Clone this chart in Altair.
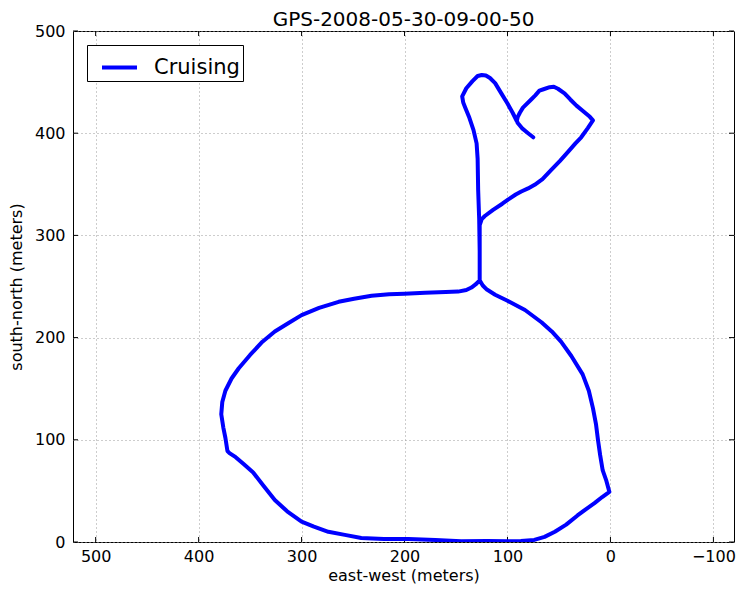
import altair as alt
import pandas as pd

# GPS track (east-west, south-north) in metres, in drawing order
east_west = [
    # tip of the heart, up the left lobe, down the stem
    75, 80, 86, 90, 95, 100, 106, 112, 117, 121, 125, 129, 134, 140, 144, 143, 141, 137, 133, 130,
    129, 128.5, 127.5, 127, 127,
    # right side of the big loop
    124, 120, 112, 100, 83, 67, 57, 48, 38, 27, 21, 17, 14, 12, 10, 7.5, 4, 1,
    # bottom of the loop, left side, top
    8, 15.5, 24, 32, 43, 54, 64, 74, 87, 99.5, 120, 145, 170, 196, 220, 242, 258, 274, 288, 300,
    314, 326, 337, 347, 356, 364, 370, 372, 374, 376, 378, 377, 374, 368, 361, 350, 338, 326, 313,
    300, 283, 264, 249, 232, 215, 200, 180, 160, 148, 140, 135, 131, 127,
    # back up the stem and along the branch to the right lobe
    127, 127, 125, 122, 114, 105, 99.5, 92, 86.6, 80, 73.6, 66, 57.5, 49, 41, 34, 28.4, 22, 17,
    20, 27, 33, 39, 44.6, 51, 55, 59, 65, 69, 73, 77, 85, 88, 90, 91,
]
south_north = [
    396, 400, 405, 410, 420, 429, 439, 449, 454, 456.5, 457, 456, 451, 444, 436, 430, 425, 415, 403, 390,
    375, 345, 316, 285, 256,
    251, 247, 242, 236, 227, 215, 206, 196, 182, 164, 148, 131, 115, 99, 85, 70, 60, 49,
    44, 38, 32, 26, 17, 10, 5, 2, 1, 0.7, 1, 0.7, 2, 3, 3, 4, 7, 10, 15, 20,
    30, 41, 55, 68, 76, 83, 87, 89, 102, 112, 125, 137, 148, 160, 170, 183, 196, 206, 214,
    222, 229, 235, 238, 241, 242.5, 243, 244, 244.5, 245, 246.5, 249, 252, 256,
    285, 310, 316, 319, 325, 331, 335, 340, 343, 346, 349.5, 355, 364, 373, 382, 390, 396, 405, 412.5,
    416, 422, 427, 433, 439, 443.5, 445.5, 445, 443, 441.6, 437, 433, 425, 420, 416, 412,
]
series_name = "Cruising"
x_ticks = [500, 400, 300, 200, 100, 0, -100]
y_ticks = [0, 100, 200, 300, 400, 500]

W, H = 661, 511
FONT = "DejaVu Sans"

df = pd.DataFrame({
    "ew": east_west,
    "sn": south_north,
    "idx": list(range(len(east_west))),
    "series": [series_name] * len(east_west),
})
xt = pd.DataFrame({"ew": x_ticks})
yt = pd.DataFrame({"sn": y_ticks})

x_enc = alt.X("ew:Q",
              scale=alt.Scale(domain=[-120, 522], reverse=True, nice=False, zero=False),
              axis=alt.Axis(values=x_ticks, title="east-west (meters)", titlePadding=3,
                            labelPadding=6))
y_enc = alt.Y("sn:Q",
              scale=alt.Scale(domain=[0, 500], nice=False, zero=False),
              axis=alt.Axis(values=y_ticks, title="south-north (meters)", titlePadding=10,
                            labelPadding=8))

track = alt.Chart(df).mark_line(
    strokeWidth=4, strokeCap="round", strokeJoin="round", clip=True
).encode(
    x=x_enc,
    y=y_enc,
    order=alt.Order("idx:Q"),
    color=alt.Color("series:N", scale=alt.Scale(range=["#0000ff"]),
                    legend=alt.Legend(
                        title=None, orient="none", legendX=14, legendY=14,
                        symbolType="stroke", symbolSize=1225, symbolStrokeWidth=4,
                        symbolOffset=10, labelOffset=15,
                        labelExpr="datum.label + '\u00a0\u00a0'",
                        labelFont=FONT, labelFontSize=21, labelColor="black",
                        strokeColor="black", fillColor="white", padding=3,
                        cornerRadius=0)),
)

tick_style = dict(color="black", strokeWidth=1)
bottom_ticks = alt.Chart(xt).mark_rule(**tick_style).encode(
    x=x_enc, y=alt.value(H), y2=alt.value(H - 5))
top_ticks = alt.Chart(xt).mark_rule(**tick_style).encode(
    x=x_enc, y=alt.value(0), y2=alt.value(5))
left_ticks = alt.Chart(yt).mark_rule(**tick_style).encode(
    y=y_enc, x=alt.value(0), x2=alt.value(5))
right_ticks = alt.Chart(yt).mark_rule(**tick_style).encode(
    y=y_enc, x=alt.value(W), x2=alt.value(W - 5))

chart = alt.layer(
    bottom_ticks, top_ticks, left_ticks, right_ticks, track
).properties(
    width=W,
    height=H,
    title=alt.TitleParams("GPS-2008-05-30-09-00-50", font=FONT, fontSize=20,
                          fontWeight="normal", color="black", offset=6, dy=13),
    autosize=alt.AutoSizeParams(type="none"),
    padding={"left": 65, "top": 23, "right": 2, "bottom": 46},
).configure_view(
    stroke="black", strokeWidth=1
).configure_axis(
    labelFont=FONT, labelFontSize=16, labelColor="black",
    titleFont=FONT, titleFontSize=16, titleFontWeight="normal", titleColor="black",
    ticks=False, domain=False,
    grid=True, gridColor="#9a9a9a", gridDash=[1, 3], gridWidth=1, gridOpacity=1,
)

chart.save("out.html", embed_options={"renderer": "svg", "actions": False})
